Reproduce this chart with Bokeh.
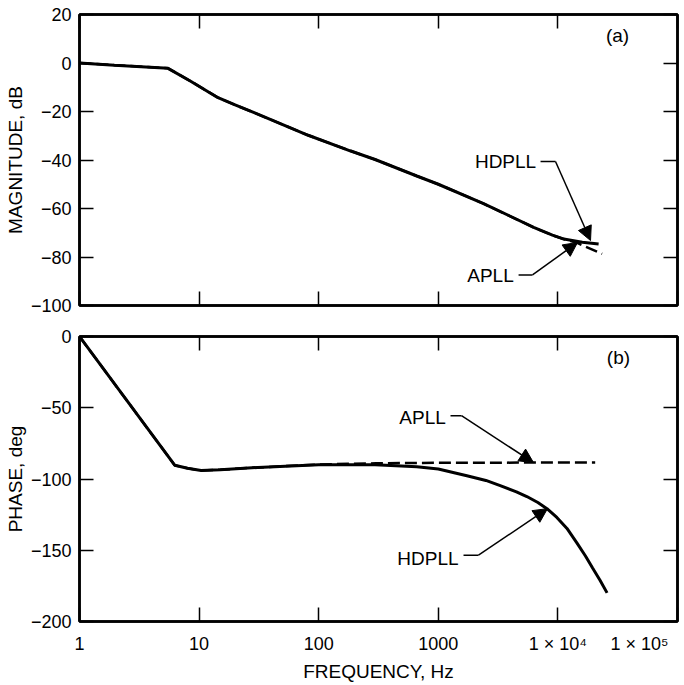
from bokeh.plotting import figure
from bokeh.layouts import column
from bokeh.models import (Range1d, FixedTicker, LogAxis, LinearAxis, Label, Arrow,
                          NormalHead)
from bokeh.embed import file_html
from bokeh.resources import INLINE

# ---------------- data ----------------
freq_ticks = [1, 10, 100, 1000, 10000, 100000]
freq_tick_labels = ["1", "10", "100", "1000", "1 × 10⁴", "1 × 10⁵"]

mag_ticks = [20, 0, -20, -40, -60, -80, -100]
mag_tick_labels = ["20", "0", "−20", "−40", "−60", "−80", "−100"]
phase_ticks = [0, -50, -100, -150, -200]
phase_tick_labels = ["0", "−50", "−100", "−150", "−200"]

# magnitude (a)
mag_freq_hdpll = [1, 1.96, 5.5, 8.5, 14.4, 20, 29.2, 50, 81.7, 183, 296, 661, 1000, 2390, 4000, 6270, 9000, 11200, 16000, 21900]
mag_hdpll = [0, -0.9, -2.2, -7.5, -14.3, -17.3, -20.6, -25.4, -29.8, -36.2, -39.8, -46.6, -50.0, -58.0, -63.2, -67.8, -71.0, -72.6, -73.9, -74.6]
mag_freq_apll = [1, 1.96, 5.5, 8.5, 14.4, 20, 29.2, 50, 81.7, 183, 296, 661, 1000, 2390, 4000, 6270, 9000, 11200, 14500, 23400]
mag_apll = [0, -0.9, -2.2, -7.5, -14.3, -17.3, -20.6, -25.4, -29.8, -36.2, -39.8, -46.6, -50.0, -58.0, -63.2, -67.8, -71.0, -72.6, -74.2, -78.7]

# phase (b)
ph_freq_hdpll = [1, 6.25, 8, 10.4, 15, 31, 100, 296, 661, 1000, 1733, 2500, 3295, 4500, 5500, 6800, 8107, 9800, 11910, 14450, 17000, 19500, 22500, 25770]
ph_hdpll = [0, -90.3, -92.5, -94.0, -93.5, -91.9, -90.0, -90.0, -91.4, -93.0, -97.7, -101.0, -104.6, -109.0, -112.3, -116.5, -120.8, -127.0, -134.7, -145.0, -154.0, -162.5, -171.0, -179.9]
ph_freq_apll = [1, 6.25, 8, 10.4, 15, 31, 100, 300, 1000, 20500]
ph_apll = [0, -90.3, -92.5, -94.0, -93.5, -91.9, -89.8, -89.0, -88.6, -88.4]

FONT = "Liberation Sans"
TICK_FS = "18px"
TITLE_FS = "19px"
W = 683
NBSP = "\u00a0"


def style_axis(ax, ticks, labels=None, show_labels=True):
    ax.ticker = FixedTicker(ticks=ticks)
    ax.major_tick_in = 14
    ax.major_tick_out = 0
    ax.minor_tick_in = 0
    ax.minor_tick_out = 0
    ax.major_tick_line_width = 1.5
    ax.major_tick_line_color = "black"
    ax.axis_line_width = 2.5
    ax.axis_line_color = "black"
    ax.major_label_text_font = FONT
    ax.axis_label_text_font = FONT
    ax.axis_label_text_font_style = "normal"
    ax.axis_label_text_font_size = TITLE_FS
    ax.axis_label_text_color = "black"
    ax.major_label_text_color = "black"
    if show_labels:
        ax.major_label_text_font_size = TICK_FS
        ax.major_label_overrides = {t: l for t, l in zip(ticks, labels)}
    else:
        ax.major_label_text_font_size = "1px"
        ax.major_label_text_color = None
        ax.major_label_standoff = 0


def make_fig(height, border_top, border_bottom, yr):
    p = figure(width=W, height=height, x_axis_type="log",
               x_range=Range1d(1, 100000), y_range=Range1d(*yr),
               output_backend="svg", toolbar_location=None,
               min_border_left=79, min_border_right=6,
               min_border_top=border_top, min_border_bottom=border_bottom)
    p.grid.visible = False
    p.outline_line_color = "black"
    p.outline_line_width = 2.5
    p.background_fill_color = "white"
    p.border_fill_color = "white"
    return p


def annotate(p, text, tx, ty, lx0, lx1, ly, ax, ay):
    p.add_layout(Label(x=tx, y=ty, text=text, text_align="center", text_baseline="middle",
                       text_font=FONT, text_font_size=TITLE_FS, text_color="black"))
    p.segment(x0=[lx0], y0=[ly], x1=[lx1], y1=[ly], line_color="black", line_width=1.5)
    p.add_layout(Arrow(end=NormalHead(size=14, fill_color="black", line_color="black"),
                       x_start=lx1, y_start=ly, x_end=ax, y_end=ay,
                       line_color="black", line_width=1.5))


# ---------------- (a) magnitude ----------------
p1 = make_fig(320, 14, 15, (-100, 20))
p1.line(mag_freq_apll, mag_apll, line_color="black", line_width=2.5, line_dash="12 5")
p1.line(mag_freq_hdpll, mag_hdpll, line_color="black", line_width=3)
style_axis(p1.xaxis[0], freq_ticks, show_labels=False)
style_axis(p1.yaxis[0], mag_ticks, mag_tick_labels)
p1.yaxis[0].axis_label = "MAGNITUDE, dB"
p1.yaxis[0].major_label_standoff = 8
p1.yaxis[0].axis_label_standoff = 2
top1 = LogAxis()
style_axis(top1, freq_ticks, show_labels=False)
p1.add_layout(top1, "above")
right1 = LinearAxis()
style_axis(right1, mag_ticks, show_labels=False)
p1.add_layout(right1, "right")
p1.add_layout(Label(x=31500, y=11.3, text="(a)", text_align="center", text_baseline="middle",
                    text_font=FONT, text_font_size=TITLE_FS, text_color="black"))
annotate(p1, "HDPLL", 3650, -40.6, 7160, 9550, -40.6, 18740, -73.2)
annotate(p1, "APLL", 2730, -87.6, 4690, 6130, -87.4, 14590, -74.0)

# ---------------- (b) phase ----------------
p2 = make_fig(364, 16, 59, (-200, 0))
p2.line(ph_freq_hdpll, ph_hdpll, line_color="black", line_width=3)
p2.line(ph_freq_apll, ph_apll, line_color="black", line_width=2.5, line_dash="12 5")
# the last label is padded on its right so that its visible part sits left of the edge
x_labels = freq_tick_labels[:-1] + [freq_tick_labels[-1] + " " + NBSP * 2]
style_axis(p2.xaxis[0], freq_ticks, x_labels)
p2.xaxis[0].axis_label = "FREQUENCY, Hz"
p2.xaxis[0].major_label_standoff = 12
p2.xaxis[0].axis_label_standoff = 4
style_axis(p2.yaxis[0], phase_ticks, phase_tick_labels)
p2.yaxis[0].axis_label = "PHASE, deg"
p2.yaxis[0].major_label_standoff = 8
p2.yaxis[0].axis_label_standoff = 2
top2 = LogAxis()
style_axis(top2, freq_ticks, show_labels=False)
p2.add_layout(top2, "above")
right2 = LinearAxis()
style_axis(right2, phase_ticks, show_labels=False)
p2.add_layout(right2, "right")
p2.add_layout(Label(x=32100, y=-14.6, text="(b)", text_align="center", text_baseline="middle",
                    text_font=FONT, text_font_size=TITLE_FS, text_color="black"))
annotate(p2, "APLL", 738, -56.9, 1265, 1563, -55.6, 6252, -88.5)
annotate(p2, "HDPLL", 820, -155.6, 1625, 2168, -153.5, 8185, -120.8)

layout = column(p1, p2, spacing=0)
open("out.html", "w").write(file_html(layout, INLINE))
